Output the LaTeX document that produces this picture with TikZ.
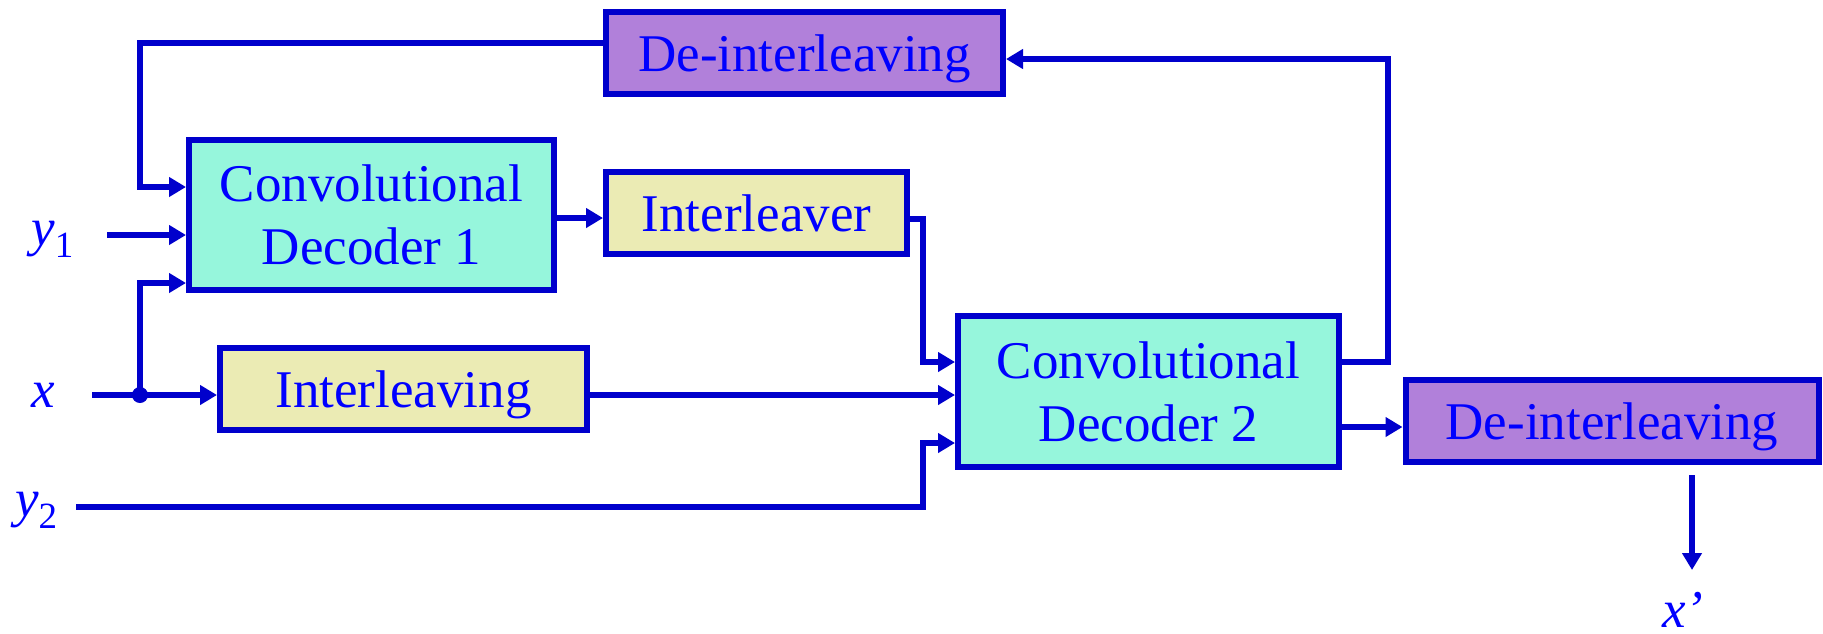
\documentclass[tikz,border=0pt]{standalone}
\usepackage{fontspec}
\setmainfont{Liberation Serif}
\usetikzlibrary{arrows.meta}
\definecolor{lineblue}{RGB}{0,0,204}
\definecolor{textblue}{RGB}{0,0,255}
\definecolor{cdfill}{RGB}{150,246,220}
\definecolor{ilfill}{RGB}{235,235,180}
\definecolor{defill}{RGB}{177,128,218}
\begin{document}
\begin{tikzpicture}[x=1pt,y=-1pt,
  blk/.style={draw=lineblue, line width=6pt, inner sep=0pt, text=textblue,
    font=\fontsize{53}{63}\selectfont, align=center},
  one/.style={blk, text height=37pt, text depth=0pt},
  arr/.style={draw=lineblue, line width=6pt, -{Triangle[length=17pt,width=19pt]}},
  lbl/.style={text=textblue, inner sep=0pt, anchor=base west,
    font=\fontsize{53}{63}\selectfont}
]
\useasboundingbox (0,0) rectangle (1823,633);
\fill[white] (0,0) rectangle (1823,633);

% blocks
\node[one, fill=defill, minimum width=397pt, minimum height=82pt] (de1) at (804.5,53) {De-interleaving};
\node[blk, fill=cdfill, minimum width=365pt, minimum height=150pt] (cd1) at (371.5,215) {Convolutional\\Decoder 1};
\node[one, fill=ilfill, minimum width=301pt, minimum height=82pt] (il) at (756.5,213) {Interleaver};
\node[one, fill=ilfill, minimum width=367pt, minimum height=82pt] (ing) at (403.5,389) {Interleaving};
\node[blk, fill=cdfill, minimum width=381pt, minimum height=151pt] (cd2) at (1148.5,391.5) {Convolutional\\Decoder 2};
\node[one, fill=defill, minimum width=413pt, minimum height=82pt] (de2) at (1612,421) {De-interleaving};

% labels
\node[lbl] (y1) at (31,245.5) {\textit{y}\raisebox{-12pt}{\fontsize{37}{37}\selectfont 1}};
\node[lbl] (x) at (31,407) {\textit{x}};
\node[lbl] (y2) at (15,516) {\textit{y}\raisebox{-12pt}{\fontsize{37}{37}\selectfont 2}};
\node[lbl] (xp) at (1662,627) {\textit{x’}};

% coordinates
\coordinate (y1s) at (107,235);
\coordinate (xs) at (92,395);
\coordinate (j) at (140,395);
\coordinate (y2s) at (76,507);
\coordinate (d2o) at (1692,475);
\coordinate (xpt) at (1692,570);

% connectors
\draw[arr] (de1.west |- 0,43) -| (140,187) -- (cd1.west |- 0,187);
\draw[arr] (y1s) -- (cd1.west |- y1s);
\draw[arr] (j) |- (cd1.west |- 0,283);
\draw[arr] (xs) -- (ing.west |- xs);
\fill[lineblue] (j) circle (8pt);
\draw[arr] (cd1.east |- 0,218) -- (il.west |- 0,218);
\draw[arr] (il.east |- 0,219) -| (923,362) -- (cd2.west |- 0,362);
\draw[arr] (ing.east |- 0,395) -- (cd2.west |- 0,395);
\draw[arr] (y2s) -| (923,443) -- (cd2.west |- 0,443);
\draw[arr] (cd2.east |- 0,362) -| (1388,59) -- (de1.east |- 0,59);
\draw[arr] (cd2.east |- 0,427) -- (de2.west |- 0,427);
\draw[arr] (d2o) -- (xpt);
\end{tikzpicture}
\end{document}
